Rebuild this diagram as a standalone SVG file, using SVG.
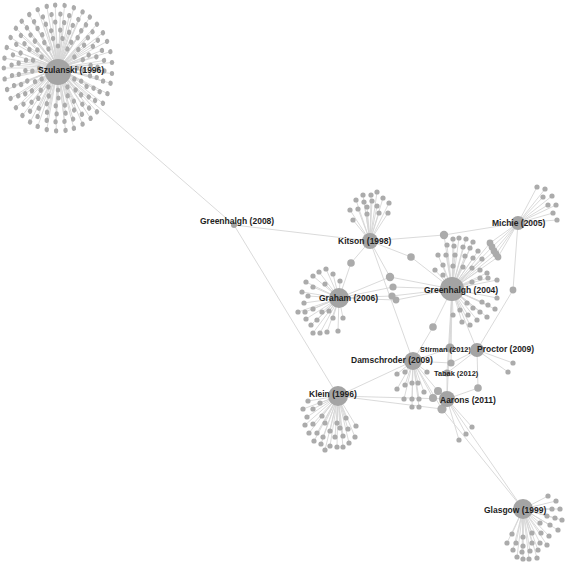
<svg xmlns="http://www.w3.org/2000/svg" xmlns:xlink="http://www.w3.org/1999/xlink" width="567" height="566" viewBox="0 0 567 566">
<style>
.e{stroke:#d6d6d6;stroke-width:.9;fill:none}
.l{fill:#ababab}
.h{fill:#a4a4a4}
text{font-family:"Liberation Sans",Arial,sans-serif;font-weight:bold;font-size:8.5px;fill:#1e1e1e}
text.s{font-size:7.4px}
</style>
<defs>
<circle id="q1" cx="58" cy="46" r="2.6"/><circle id="q2" cx="58" cy="38" r="2.6"/><circle id="q3" cx="58" cy="30" r="2.6"/>
<circle id="q4" cx="58" cy="22" r="2.6"/><circle id="q5" cx="58" cy="14" r="2.6"/><circle id="q6" cx="58" cy="5" r="2.6"/>
<path id="w1" d="M58 68V46"/><path id="w2" d="M58 68V38"/><path id="w3" d="M58 68V30"/>
<path id="w4" d="M58 68V22"/><path id="w5" d="M58 68V14"/><path id="w6" d="M58 68V5"/>
</defs>
<rect width="567" height="566" fill="#fff"/>
<g id="connectors" class="e">
<path d="M58 72L234 225M234 225L370 241M234 225L338 396M370 241L444 235L518 223M444 235L452 289M370 241L351 263L339 298M370 241L411 257L452 289M370 241L390 277M370 241L413 361M339 298L390 277L452 289M339 298L393 287L452 289M339 298L392 296L452 289M339 298L396 300L452 289M518 223L490 243L452 289M518 223L492 247L452 289M518 223L494 251L452 289M518 223L496 254L452 289M518 223L498 257L452 289M518 223L513 290L477 350M452 289L433 327L413 361M452 289L450 348M452 289L451 363M452 289L447 399M452 289L477 350M452 289L447 373M413 361L450 348M413 361L451 363L477 350M450 348L477 350M477 350L478 388L447 399M477 350L513 363M477 350L508 372M477 350L447 373M413 361L438 391L447 399M413 361L433 398L447 399M338 396L413 361M338 396L447 399M338 396L442 409L447 399M413 361L442 409M447 399L523 509M442 409L523 509M447 399L472 427M447 399L466 434M447 399L459 440M447 373L447 399"/>
<path d="M370 241L377 192M370 241L371 195M370 241L363 195M370 241L383 198M370 241L356 200M370 241L364 202M370 241L372 201M370 241L389 203M370 241L350 210M370 241L358 209M370 241L367 207M370 241L377 206M370 241L379 213M370 241L388 213M370 241L367 214M370 241L353 220"/>
<path d="M518 223L537 187M518 223L545 189M518 223L543 197M518 223L552 196M518 223L548 205M518 223L556 205M518 223L553 213M518 223L557 220"/>
<path d="M452 289L453 239M452 289L459 238M452 289L466 239M452 289L473 242M452 289L447 245M452 289L454 246M452 289L463 247M452 289L470 248M452 289L478 251M452 289L438 255M452 289L446 255M452 289L455 255M452 289L465 256M452 289L473 258M452 289L482 259M452 289L435 270M452 289L443 265M452 289L453 266M452 289L463 267M452 289L472 268M452 289L480 270M452 289L487 273M452 289L443 275M452 289L480 278M452 289L488 278M452 289L497 280M452 289L472 282M452 289L467 303M452 289L473 308M452 289L480 312M452 289L487 317M452 289L482 302M452 289L488 305M452 289L495 309M452 289L497 298M452 289L460 310M452 289L468 315M452 289L477 320M452 289L453 315M452 289L462 322M452 289L470 325"/>
<path d="M339 298L326 269M339 298L319 272M339 298L333 274M339 298L313 276M339 298L325 284M339 298L340 281M339 298L306 282M339 298L313 287M339 298L302 292M339 298L308 296M339 298L304 303M339 298L298 312M339 298L305 312M339 298L313 309M339 298L322 312M339 298L306 319M339 298L317 320M339 298L311 325M339 298L313 333M339 298L320 333M339 298L327 332M339 298L338 331M339 298L333 318M339 298L343 318M339 298L329 311"/>
<path d="M413 361L397 374M413 361L405 372M413 361L427 372M413 361L397 389M413 361L405 385M413 361L412 383M413 361L418 383M413 361L424 392M413 361L404 399M413 361L412 399M413 361L419 399M413 361L412 407M413 361L419 407"/>
<path d="M338 396L308 401M338 396L320 403M338 396L313 409M338 396L303 409M338 396L322 416M338 396L307 417M338 396L313 424M338 396L325 423M338 396L337 423M338 396L346 418M338 396L356 426M338 396L305 425M338 396L309 433M338 396L317 433M338 396L330 431M338 396L340 428M338 396L348 429M338 396L355 437M338 396L314 441M338 396L323 437M338 396L335 437M338 396L343 436M338 396L349 443M338 396L321 444M338 396L330 446M338 396L337 447M338 396L343 447M338 396L325 450"/>
<path d="M523 509L548 496M523 509L556 501M523 509L552 509M523 509L560 509M523 509L547 516M523 509L555 518M523 509L562 520M523 509L540 523M523 509L550 525M523 509L558 530M523 509L512 534M523 509L523 537M523 509L532 533M523 509L541 533M523 509L549 536M523 509L507 543M523 509L516 543M523 509L523 546M523 509L532 543M523 509L540 543M523 509L547 545M523 509L513 550M523 509L522 552M523 509L530 551M523 509L538 550M523 509L517 557M523 509L523 559M523 509L529 559M523 509L537 558"/>
<g transform="matrix(0.86 0 0 1 8.12 0)">
<use href="#w1"/><use href="#w1" transform="rotate(30 58 68)"/><use href="#w1" transform="rotate(60 58 68)"/><use href="#w1" transform="rotate(90 58 68)"/><use href="#w1" transform="rotate(120 58 68)"/><use href="#w1" transform="rotate(150 58 68)"/><use href="#w1" transform="rotate(180 58 68)"/><use href="#w1" transform="rotate(210 58 68)"/><use href="#w1" transform="rotate(240 58 68)"/><use href="#w1" transform="rotate(270 58 68)"/><use href="#w1" transform="rotate(300 58 68)"/><use href="#w1" transform="rotate(330 58 68)"/>
<use href="#w2" transform="rotate(10 58 68)"/><use href="#w2" transform="rotate(31 58 68)"/><use href="#w2" transform="rotate(52 58 68)"/><use href="#w2" transform="rotate(74 58 68)"/><use href="#w2" transform="rotate(95 58 68)"/><use href="#w2" transform="rotate(116 58 68)"/><use href="#w2" transform="rotate(137 58 68)"/><use href="#w2" transform="rotate(158 58 68)"/><use href="#w2" transform="rotate(179 58 68)"/><use href="#w2" transform="rotate(201 58 68)"/><use href="#w2" transform="rotate(222 58 68)"/><use href="#w2" transform="rotate(243 58 68)"/><use href="#w2" transform="rotate(264 58 68)"/><use href="#w2" transform="rotate(285 58 68)"/><use href="#w2" transform="rotate(307 58 68)"/><use href="#w2" transform="rotate(328 58 68)"/><use href="#w2" transform="rotate(349 58 68)"/>
<use href="#w3" transform="rotate(4 58 68)"/><use href="#w3" transform="rotate(20 58 68)"/><use href="#w3" transform="rotate(37 58 68)"/><use href="#w3" transform="rotate(53 58 68)"/><use href="#w3" transform="rotate(70 58 68)"/><use href="#w3" transform="rotate(86 58 68)"/><use href="#w3" transform="rotate(102 58 68)"/><use href="#w3" transform="rotate(119 58 68)"/><use href="#w3" transform="rotate(135 58 68)"/><use href="#w3" transform="rotate(151 58 68)"/><use href="#w3" transform="rotate(168 58 68)"/><use href="#w3" transform="rotate(184 58 68)"/><use href="#w3" transform="rotate(200 58 68)"/><use href="#w3" transform="rotate(217 58 68)"/><use href="#w3" transform="rotate(233 58 68)"/><use href="#w3" transform="rotate(250 58 68)"/><use href="#w3" transform="rotate(266 58 68)"/><use href="#w3" transform="rotate(282 58 68)"/><use href="#w3" transform="rotate(299 58 68)"/><use href="#w3" transform="rotate(315 58 68)"/><use href="#w3" transform="rotate(331 58 68)"/><use href="#w3" transform="rotate(348 58 68)"/>
<use href="#w4" transform="rotate(9 58 68)"/><use href="#w4" transform="rotate(22 58 68)"/><use href="#w4" transform="rotate(36 58 68)"/><use href="#w4" transform="rotate(49 58 68)"/><use href="#w4" transform="rotate(62 58 68)"/><use href="#w4" transform="rotate(76 58 68)"/><use href="#w4" transform="rotate(89 58 68)"/><use href="#w4" transform="rotate(102 58 68)"/><use href="#w4" transform="rotate(116 58 68)"/><use href="#w4" transform="rotate(129 58 68)"/><use href="#w4" transform="rotate(142 58 68)"/><use href="#w4" transform="rotate(156 58 68)"/><use href="#w4" transform="rotate(169 58 68)"/><use href="#w4" transform="rotate(182 58 68)"/><use href="#w4" transform="rotate(196 58 68)"/><use href="#w4" transform="rotate(209 58 68)"/><use href="#w4" transform="rotate(222 58 68)"/><use href="#w4" transform="rotate(236 58 68)"/><use href="#w4" transform="rotate(249 58 68)"/><use href="#w4" transform="rotate(262 58 68)"/><use href="#w4" transform="rotate(276 58 68)"/><use href="#w4" transform="rotate(289 58 68)"/><use href="#w4" transform="rotate(302 58 68)"/><use href="#w4" transform="rotate(316 58 68)"/><use href="#w4" transform="rotate(329 58 68)"/><use href="#w4" transform="rotate(342 58 68)"/><use href="#w4" transform="rotate(356 58 68)"/>
<use href="#w5" transform="rotate(3 58 68)"/><use href="#w5" transform="rotate(14 58 68)"/><use href="#w5" transform="rotate(26 58 68)"/><use href="#w5" transform="rotate(37 58 68)"/><use href="#w5" transform="rotate(48 58 68)"/><use href="#w5" transform="rotate(59 58 68)"/><use href="#w5" transform="rotate(71 58 68)"/><use href="#w5" transform="rotate(82 58 68)"/><use href="#w5" transform="rotate(93 58 68)"/><use href="#w5" transform="rotate(104 58 68)"/><use href="#w5" transform="rotate(116 58 68)"/><use href="#w5" transform="rotate(127 58 68)"/><use href="#w5" transform="rotate(138 58 68)"/><use href="#w5" transform="rotate(149 58 68)"/><use href="#w5" transform="rotate(161 58 68)"/><use href="#w5" transform="rotate(172 58 68)"/><use href="#w5" transform="rotate(183 58 68)"/><use href="#w5" transform="rotate(194 58 68)"/><use href="#w5" transform="rotate(206 58 68)"/><use href="#w5" transform="rotate(217 58 68)"/><use href="#w5" transform="rotate(228 58 68)"/><use href="#w5" transform="rotate(239 58 68)"/><use href="#w5" transform="rotate(251 58 68)"/><use href="#w5" transform="rotate(262 58 68)"/><use href="#w5" transform="rotate(273 58 68)"/><use href="#w5" transform="rotate(284 58 68)"/><use href="#w5" transform="rotate(296 58 68)"/><use href="#w5" transform="rotate(307 58 68)"/><use href="#w5" transform="rotate(318 58 68)"/><use href="#w5" transform="rotate(329 58 68)"/><use href="#w5" transform="rotate(341 58 68)"/><use href="#w5" transform="rotate(352 58 68)"/>
<use href="#w6" transform="rotate(7 58 68)"/><use href="#w6" transform="rotate(17 58 68)"/><use href="#w6" transform="rotate(27 58 68)"/><use href="#w6" transform="rotate(36 58 68)"/><use href="#w6" transform="rotate(46 58 68)"/><use href="#w6" transform="rotate(56 58 68)"/><use href="#w6" transform="rotate(65 58 68)"/><use href="#w6" transform="rotate(75 58 68)"/><use href="#w6" transform="rotate(85 58 68)"/><use href="#w6" transform="rotate(95 58 68)"/><use href="#w6" transform="rotate(104 58 68)"/><use href="#w6" transform="rotate(114 58 68)"/><use href="#w6" transform="rotate(124 58 68)"/><use href="#w6" transform="rotate(134 58 68)"/><use href="#w6" transform="rotate(143 58 68)"/><use href="#w6" transform="rotate(153 58 68)"/><use href="#w6" transform="rotate(163 58 68)"/><use href="#w6" transform="rotate(172 58 68)"/><use href="#w6" transform="rotate(182 58 68)"/><use href="#w6" transform="rotate(192 58 68)"/><use href="#w6" transform="rotate(202 58 68)"/><use href="#w6" transform="rotate(211 58 68)"/><use href="#w6" transform="rotate(221 58 68)"/><use href="#w6" transform="rotate(231 58 68)"/><use href="#w6" transform="rotate(241 58 68)"/><use href="#w6" transform="rotate(250 58 68)"/><use href="#w6" transform="rotate(260 58 68)"/><use href="#w6" transform="rotate(270 58 68)"/><use href="#w6" transform="rotate(279 58 68)"/><use href="#w6" transform="rotate(289 58 68)"/><use href="#w6" transform="rotate(299 58 68)"/><use href="#w6" transform="rotate(309 58 68)"/><use href="#w6" transform="rotate(318 58 68)"/><use href="#w6" transform="rotate(328 58 68)"/><use href="#w6" transform="rotate(338 58 68)"/><use href="#w6" transform="rotate(348 58 68)"/><use href="#w6" transform="rotate(357 58 68)"/>
</g>
</g>
<g id="leaves-szulanski" class="l" transform="matrix(0.86 0 0 1 8.12 0)">
<use href="#q1"/><use href="#q1" transform="rotate(30 58 68)"/><use href="#q1" transform="rotate(60 58 68)"/><use href="#q1" transform="rotate(90 58 68)"/><use href="#q1" transform="rotate(120 58 68)"/><use href="#q1" transform="rotate(150 58 68)"/><use href="#q1" transform="rotate(180 58 68)"/><use href="#q1" transform="rotate(210 58 68)"/><use href="#q1" transform="rotate(240 58 68)"/><use href="#q1" transform="rotate(270 58 68)"/><use href="#q1" transform="rotate(300 58 68)"/><use href="#q1" transform="rotate(330 58 68)"/>
<use href="#q2" transform="rotate(10 58 68)"/><use href="#q2" transform="rotate(31 58 68)"/><use href="#q2" transform="rotate(52 58 68)"/><use href="#q2" transform="rotate(74 58 68)"/><use href="#q2" transform="rotate(95 58 68)"/><use href="#q2" transform="rotate(116 58 68)"/><use href="#q2" transform="rotate(137 58 68)"/><use href="#q2" transform="rotate(158 58 68)"/><use href="#q2" transform="rotate(179 58 68)"/><use href="#q2" transform="rotate(201 58 68)"/><use href="#q2" transform="rotate(222 58 68)"/><use href="#q2" transform="rotate(243 58 68)"/><use href="#q2" transform="rotate(264 58 68)"/><use href="#q2" transform="rotate(285 58 68)"/><use href="#q2" transform="rotate(307 58 68)"/><use href="#q2" transform="rotate(328 58 68)"/><use href="#q2" transform="rotate(349 58 68)"/>
<use href="#q3" transform="rotate(4 58 68)"/><use href="#q3" transform="rotate(20 58 68)"/><use href="#q3" transform="rotate(37 58 68)"/><use href="#q3" transform="rotate(53 58 68)"/><use href="#q3" transform="rotate(70 58 68)"/><use href="#q3" transform="rotate(86 58 68)"/><use href="#q3" transform="rotate(102 58 68)"/><use href="#q3" transform="rotate(119 58 68)"/><use href="#q3" transform="rotate(135 58 68)"/><use href="#q3" transform="rotate(151 58 68)"/><use href="#q3" transform="rotate(168 58 68)"/><use href="#q3" transform="rotate(184 58 68)"/><use href="#q3" transform="rotate(200 58 68)"/><use href="#q3" transform="rotate(217 58 68)"/><use href="#q3" transform="rotate(233 58 68)"/><use href="#q3" transform="rotate(250 58 68)"/><use href="#q3" transform="rotate(266 58 68)"/><use href="#q3" transform="rotate(282 58 68)"/><use href="#q3" transform="rotate(299 58 68)"/><use href="#q3" transform="rotate(315 58 68)"/><use href="#q3" transform="rotate(331 58 68)"/><use href="#q3" transform="rotate(348 58 68)"/>
<use href="#q4" transform="rotate(9 58 68)"/><use href="#q4" transform="rotate(22 58 68)"/><use href="#q4" transform="rotate(36 58 68)"/><use href="#q4" transform="rotate(49 58 68)"/><use href="#q4" transform="rotate(62 58 68)"/><use href="#q4" transform="rotate(76 58 68)"/><use href="#q4" transform="rotate(89 58 68)"/><use href="#q4" transform="rotate(102 58 68)"/><use href="#q4" transform="rotate(116 58 68)"/><use href="#q4" transform="rotate(129 58 68)"/><use href="#q4" transform="rotate(142 58 68)"/><use href="#q4" transform="rotate(156 58 68)"/><use href="#q4" transform="rotate(169 58 68)"/><use href="#q4" transform="rotate(182 58 68)"/><use href="#q4" transform="rotate(196 58 68)"/><use href="#q4" transform="rotate(209 58 68)"/><use href="#q4" transform="rotate(222 58 68)"/><use href="#q4" transform="rotate(236 58 68)"/><use href="#q4" transform="rotate(249 58 68)"/><use href="#q4" transform="rotate(262 58 68)"/><use href="#q4" transform="rotate(276 58 68)"/><use href="#q4" transform="rotate(289 58 68)"/><use href="#q4" transform="rotate(302 58 68)"/><use href="#q4" transform="rotate(316 58 68)"/><use href="#q4" transform="rotate(329 58 68)"/><use href="#q4" transform="rotate(342 58 68)"/><use href="#q4" transform="rotate(356 58 68)"/>
<use href="#q5" transform="rotate(3 58 68)"/><use href="#q5" transform="rotate(14 58 68)"/><use href="#q5" transform="rotate(26 58 68)"/><use href="#q5" transform="rotate(37 58 68)"/><use href="#q5" transform="rotate(48 58 68)"/><use href="#q5" transform="rotate(59 58 68)"/><use href="#q5" transform="rotate(71 58 68)"/><use href="#q5" transform="rotate(82 58 68)"/><use href="#q5" transform="rotate(93 58 68)"/><use href="#q5" transform="rotate(104 58 68)"/><use href="#q5" transform="rotate(116 58 68)"/><use href="#q5" transform="rotate(127 58 68)"/><use href="#q5" transform="rotate(138 58 68)"/><use href="#q5" transform="rotate(149 58 68)"/><use href="#q5" transform="rotate(161 58 68)"/><use href="#q5" transform="rotate(172 58 68)"/><use href="#q5" transform="rotate(183 58 68)"/><use href="#q5" transform="rotate(194 58 68)"/><use href="#q5" transform="rotate(206 58 68)"/><use href="#q5" transform="rotate(217 58 68)"/><use href="#q5" transform="rotate(228 58 68)"/><use href="#q5" transform="rotate(239 58 68)"/><use href="#q5" transform="rotate(251 58 68)"/><use href="#q5" transform="rotate(262 58 68)"/><use href="#q5" transform="rotate(273 58 68)"/><use href="#q5" transform="rotate(284 58 68)"/><use href="#q5" transform="rotate(296 58 68)"/><use href="#q5" transform="rotate(307 58 68)"/><use href="#q5" transform="rotate(318 58 68)"/><use href="#q5" transform="rotate(329 58 68)"/><use href="#q5" transform="rotate(341 58 68)"/><use href="#q5" transform="rotate(352 58 68)"/>
<use href="#q6" transform="rotate(7 58 68)"/><use href="#q6" transform="rotate(17 58 68)"/><use href="#q6" transform="rotate(27 58 68)"/><use href="#q6" transform="rotate(36 58 68)"/><use href="#q6" transform="rotate(46 58 68)"/><use href="#q6" transform="rotate(56 58 68)"/><use href="#q6" transform="rotate(65 58 68)"/><use href="#q6" transform="rotate(75 58 68)"/><use href="#q6" transform="rotate(85 58 68)"/><use href="#q6" transform="rotate(95 58 68)"/><use href="#q6" transform="rotate(104 58 68)"/><use href="#q6" transform="rotate(114 58 68)"/><use href="#q6" transform="rotate(124 58 68)"/><use href="#q6" transform="rotate(134 58 68)"/><use href="#q6" transform="rotate(143 58 68)"/><use href="#q6" transform="rotate(153 58 68)"/><use href="#q6" transform="rotate(163 58 68)"/><use href="#q6" transform="rotate(172 58 68)"/><use href="#q6" transform="rotate(182 58 68)"/><use href="#q6" transform="rotate(192 58 68)"/><use href="#q6" transform="rotate(202 58 68)"/><use href="#q6" transform="rotate(211 58 68)"/><use href="#q6" transform="rotate(221 58 68)"/><use href="#q6" transform="rotate(231 58 68)"/><use href="#q6" transform="rotate(241 58 68)"/><use href="#q6" transform="rotate(250 58 68)"/><use href="#q6" transform="rotate(260 58 68)"/><use href="#q6" transform="rotate(270 58 68)"/><use href="#q6" transform="rotate(279 58 68)"/><use href="#q6" transform="rotate(289 58 68)"/><use href="#q6" transform="rotate(299 58 68)"/><use href="#q6" transform="rotate(309 58 68)"/><use href="#q6" transform="rotate(318 58 68)"/><use href="#q6" transform="rotate(328 58 68)"/><use href="#q6" transform="rotate(338 58 68)"/><use href="#q6" transform="rotate(348 58 68)"/><use href="#q6" transform="rotate(357 58 68)"/>
</g>
<g id="leaves" class="l">
<g id="leaves-kitson"><circle cx="377" cy="192" r="2.6"/><circle cx="371" cy="195" r="2.6"/><circle cx="363" cy="195" r="2.6"/><circle cx="383" cy="198" r="2.6"/><circle cx="356" cy="200" r="2.6"/><circle cx="364" cy="202" r="2.6"/><circle cx="372" cy="201" r="2.6"/><circle cx="389" cy="203" r="2.6"/><circle cx="350" cy="210" r="2.6"/><circle cx="358" cy="209" r="2.6"/><circle cx="367" cy="207" r="2.6"/><circle cx="377" cy="206" r="2.6"/><circle cx="379" cy="213" r="2.6"/><circle cx="388" cy="213" r="2.6"/><circle cx="367" cy="214" r="2.6"/><circle cx="353" cy="220" r="2.6"/></g>
<g id="leaves-michie"><circle cx="537" cy="187" r="2.6"/><circle cx="545" cy="189" r="2.6"/><circle cx="543" cy="197" r="2.6"/><circle cx="552" cy="196" r="2.6"/><circle cx="548" cy="205" r="2.6"/><circle cx="556" cy="205" r="2.6"/><circle cx="553" cy="213" r="2.6"/><circle cx="557" cy="220" r="2.6"/></g>
<g id="leaves-greenhalgh2004"><circle cx="453" cy="239" r="2.6"/><circle cx="459" cy="238" r="2.6"/><circle cx="466" cy="239" r="2.6"/><circle cx="473" cy="242" r="2.6"/><circle cx="447" cy="245" r="2.6"/><circle cx="454" cy="246" r="2.6"/><circle cx="463" cy="247" r="2.6"/><circle cx="470" cy="248" r="2.6"/><circle cx="478" cy="251" r="2.6"/><circle cx="438" cy="255" r="2.6"/><circle cx="446" cy="255" r="2.6"/><circle cx="455" cy="255" r="2.6"/><circle cx="465" cy="256" r="2.6"/><circle cx="473" cy="258" r="2.6"/><circle cx="482" cy="259" r="2.6"/><circle cx="435" cy="270" r="2.6"/><circle cx="443" cy="265" r="2.6"/><circle cx="453" cy="266" r="2.6"/><circle cx="463" cy="267" r="2.6"/><circle cx="472" cy="268" r="2.6"/><circle cx="480" cy="270" r="2.6"/><circle cx="487" cy="273" r="2.6"/><circle cx="443" cy="275" r="2.6"/><circle cx="480" cy="278" r="2.6"/><circle cx="488" cy="278" r="2.6"/><circle cx="497" cy="280" r="2.6"/><circle cx="472" cy="282" r="2.6"/><circle cx="467" cy="303" r="2.6"/><circle cx="473" cy="308" r="2.6"/><circle cx="480" cy="312" r="2.6"/><circle cx="487" cy="317" r="2.6"/><circle cx="482" cy="302" r="2.6"/><circle cx="488" cy="305" r="2.6"/><circle cx="495" cy="309" r="2.6"/><circle cx="497" cy="298" r="2.6"/><circle cx="460" cy="310" r="2.6"/><circle cx="468" cy="315" r="2.6"/><circle cx="477" cy="320" r="2.6"/><circle cx="453" cy="315" r="2.6"/><circle cx="462" cy="322" r="2.6"/><circle cx="470" cy="325" r="2.6"/></g>
<g id="leaves-graham"><circle cx="326" cy="269" r="2.6"/><circle cx="319" cy="272" r="2.6"/><circle cx="333" cy="274" r="2.6"/><circle cx="313" cy="276" r="2.6"/><circle cx="325" cy="284" r="2.6"/><circle cx="340" cy="281" r="2.6"/><circle cx="306" cy="282" r="2.6"/><circle cx="313" cy="287" r="2.6"/><circle cx="302" cy="292" r="2.6"/><circle cx="308" cy="296" r="2.6"/><circle cx="304" cy="303" r="2.6"/><circle cx="298" cy="312" r="2.6"/><circle cx="305" cy="312" r="2.6"/><circle cx="313" cy="309" r="2.6"/><circle cx="322" cy="312" r="2.6"/><circle cx="306" cy="319" r="2.6"/><circle cx="317" cy="320" r="2.6"/><circle cx="311" cy="325" r="2.6"/><circle cx="313" cy="333" r="2.6"/><circle cx="320" cy="333" r="2.6"/><circle cx="327" cy="332" r="2.6"/><circle cx="338" cy="331" r="2.6"/><circle cx="333" cy="318" r="2.6"/><circle cx="343" cy="318" r="2.6"/><circle cx="329" cy="311" r="2.6"/></g>
<g id="leaves-damschroder"><circle cx="397" cy="374" r="2.6"/><circle cx="405" cy="372" r="2.6"/><circle cx="427" cy="372" r="2.6"/><circle cx="397" cy="389" r="2.6"/><circle cx="405" cy="385" r="2.6"/><circle cx="412" cy="383" r="2.6"/><circle cx="418" cy="383" r="2.6"/><circle cx="424" cy="392" r="2.6"/><circle cx="404" cy="399" r="2.6"/><circle cx="412" cy="399" r="2.6"/><circle cx="419" cy="399" r="2.6"/><circle cx="412" cy="407" r="2.6"/><circle cx="419" cy="407" r="2.6"/></g>
<g id="leaves-klein"><circle cx="308" cy="401" r="2.6"/><circle cx="320" cy="403" r="2.6"/><circle cx="313" cy="409" r="2.6"/><circle cx="303" cy="409" r="2.6"/><circle cx="322" cy="416" r="2.6"/><circle cx="307" cy="417" r="2.6"/><circle cx="313" cy="424" r="2.6"/><circle cx="325" cy="423" r="2.6"/><circle cx="337" cy="423" r="2.6"/><circle cx="346" cy="418" r="2.6"/><circle cx="356" cy="426" r="2.6"/><circle cx="305" cy="425" r="2.6"/><circle cx="309" cy="433" r="2.6"/><circle cx="317" cy="433" r="2.6"/><circle cx="330" cy="431" r="2.6"/><circle cx="340" cy="428" r="2.6"/><circle cx="348" cy="429" r="2.6"/><circle cx="355" cy="437" r="2.6"/><circle cx="314" cy="441" r="2.6"/><circle cx="323" cy="437" r="2.6"/><circle cx="335" cy="437" r="2.6"/><circle cx="343" cy="436" r="2.6"/><circle cx="349" cy="443" r="2.6"/><circle cx="321" cy="444" r="2.6"/><circle cx="330" cy="446" r="2.6"/><circle cx="337" cy="447" r="2.6"/><circle cx="343" cy="447" r="2.6"/><circle cx="325" cy="450" r="2.6"/></g>
<g id="leaves-glasgow"><circle cx="548" cy="496" r="2.6"/><circle cx="556" cy="501" r="2.6"/><circle cx="552" cy="509" r="2.6"/><circle cx="560" cy="509" r="2.6"/><circle cx="547" cy="516" r="2.6"/><circle cx="555" cy="518" r="2.6"/><circle cx="562" cy="520" r="2.6"/><circle cx="540" cy="523" r="2.6"/><circle cx="550" cy="525" r="2.6"/><circle cx="558" cy="530" r="2.6"/><circle cx="512" cy="534" r="2.6"/><circle cx="523" cy="537" r="2.6"/><circle cx="532" cy="533" r="2.6"/><circle cx="541" cy="533" r="2.6"/><circle cx="549" cy="536" r="2.6"/><circle cx="507" cy="543" r="2.6"/><circle cx="516" cy="543" r="2.6"/><circle cx="523" cy="546" r="2.6"/><circle cx="532" cy="543" r="2.6"/><circle cx="540" cy="543" r="2.6"/><circle cx="547" cy="545" r="2.6"/><circle cx="513" cy="550" r="2.6"/><circle cx="522" cy="552" r="2.6"/><circle cx="530" cy="551" r="2.6"/><circle cx="538" cy="550" r="2.6"/><circle cx="517" cy="557" r="2.6"/><circle cx="523" cy="559" r="2.6"/><circle cx="529" cy="559" r="2.6"/><circle cx="537" cy="558" r="2.6"/></g>
<g id="leaves-aarons"><circle cx="472" cy="427" r="2.6"/><circle cx="466" cy="434" r="2.6"/><circle cx="459" cy="440" r="2.6"/></g>
<g id="leaves-proctor"><circle cx="513" cy="363" r="2.6"/><circle cx="508" cy="372" r="2.6"/></g>
<g id="shared"><circle cx="444" cy="235" r="4.2"/><circle cx="411" cy="257" r="3.8"/><circle cx="351" cy="263" r="3.8"/><circle cx="390" cy="277" r="4.2"/><circle cx="393" cy="287" r="3.6"/><circle cx="392" cy="296" r="3.6"/><circle cx="396" cy="300" r="3.4"/><circle cx="490" cy="243" r="3.4"/><circle cx="492" cy="247" r="3.4"/><circle cx="494" cy="251" r="3.4"/><circle cx="496" cy="254" r="3.4"/><circle cx="498" cy="257" r="3.4"/><circle cx="513" cy="290" r="3.4"/><circle cx="433" cy="327" r="3.8"/><circle cx="451" cy="363" r="3.6"/><circle cx="438" cy="391" r="4"/><circle cx="433" cy="398" r="4"/><circle cx="442" cy="409" r="4.6"/><circle cx="478" cy="388" r="3.8"/></g>
</g>
<g id="n-szulanski"><circle class="h" cx="58" cy="72" r="13"/><text x="38" y="73">Szulanski (1996)</text></g>
<g id="n-greenhalgh2008"><circle class="h" cx="234" cy="225" r="3"/><text x="200" y="224">Greenhalgh (2008)</text></g>
<g id="n-kitson"><circle class="h" cx="370" cy="241" r="8"/><text x="338" y="244">Kitson (1998)</text></g>
<g id="n-michie"><circle class="h" cx="518" cy="223" r="7"/><text x="492" y="226">Michie (2005)</text></g>
<g id="n-greenhalgh2004"><circle class="h" cx="452" cy="289" r="12"/><text x="424" y="293">Greenhalgh (2004)</text></g>
<g id="n-graham"><circle class="h" cx="339" cy="298" r="10"/><text x="319" y="301">Graham (2006)</text></g>
<g id="n-stirman"><circle class="h" cx="450" cy="348" r="4.5"/><text class="s" x="420" y="352">Stirman (2012)</text></g>
<g id="n-proctor"><circle class="h" cx="477" cy="350" r="7"/><text x="477" y="352">Proctor (2009)</text></g>
<g id="n-damschroder"><circle class="h" cx="413" cy="361" r="9"/><text x="351" y="363">Damschroder (2009)</text></g>
<g id="n-tabak"><circle class="h" cx="447" cy="373" r="3.6"/><text class="s" x="434" y="376">Tabak (2012)</text></g>
<g id="n-aarons"><circle class="h" cx="447" cy="399" r="8"/><text x="440" y="403">Aarons (2011)</text></g>
<g id="n-klein"><circle class="h" cx="338" cy="396" r="10"/><text x="309" y="397">Klein (1996)</text></g>
<g id="n-glasgow"><circle class="h" cx="523" cy="509" r="10"/><text x="484" y="513">Glasgow (1999)</text></g>
</svg>
